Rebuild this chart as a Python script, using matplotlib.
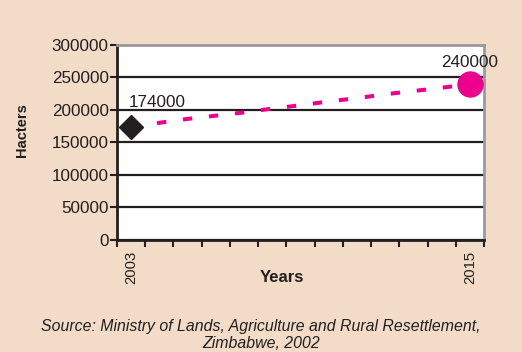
import matplotlib
matplotlib.use("Agg")
import matplotlib.pyplot as plt

# --- Data ---
years = list(range(2003, 2016))
hectares = [174000, 180000, 186000, 191000, 196000, 202000, 207000,
            213000, 218000, 224000, 229000, 234000, 240000]
start_label = "174000"
end_label = "240000"
shown_years = ["2003", "2015"]

BG = "#f2dcc8"
PINK = "#ec008c"
DARK = "#231f20"

plt.rcParams["font.family"] = ["Liberation Sans", "DejaVu Sans"]

fig = plt.figure(figsize=(5.22, 3.52), dpi=100, facecolor=BG)
ax = fig.add_axes([117 / 522, 1 - 239.5 / 352, 367 / 522, 194.5 / 352])
ax.set_facecolor("white")

x = list(range(len(years)))
ax.plot(x, hectares, color=PINK, lw=2.9, linestyle=(0, (2.3, 4.2)),
        solid_capstyle="butt", dash_capstyle="butt", zorder=3)
ax.plot(x[0], hectares[0], marker="D", ms=12.5, color=DARK, ls="none", zorder=4)
ax.plot(x[-1], hectares[-1], marker="o", ms=18, color=PINK, ls="none", zorder=4,
        clip_on=False)

# value labels above the end points
ax.text(x[0] - 0.1, 204000, start_label, fontsize=12.3, color=DARK,
        ha="left", va="baseline")
ax.text(x[-1], 266500, end_label, fontsize=12.3, color=DARK,
        ha="center", va="baseline", clip_on=False)

ax.set_xlim(-0.5, len(years) - 0.5)
ax.set_ylim(0, 300000)
ax.set_yticks(range(0, 300001, 50000))
ax.set_yticklabels([str(v) for v in range(0, 300001, 50000)], fontsize=12.3, color=DARK)
ax.set_xticks([i - 0.5 for i in range(len(years) + 1)])
ax.set_xticklabels([])
ax.set_xticks([0, len(years) - 1], minor=True)
ax.set_xticklabels(shown_years, minor=True, rotation=90, fontsize=10.7, color=DARK)
ax.tick_params(axis="x", which="minor", length=0, pad=8)
ax.tick_params(axis="both", which="major", direction="out", length=5, width=1.5,
               color=DARK, pad=1)

ax.grid(axis="y", color=DARK, lw=1.6, zorder=1)
ax.set_axisbelow(True)
for side in ["left", "bottom"]:
    ax.spines[side].set_color(DARK)
    ax.spines[side].set_linewidth(2)
for side in ["top", "right"]:
    ax.spines[side].set_color("#9a9a9a")
    ax.spines[side].set_linewidth(2)

fig.text(22 / 522, 1 - 130 / 352, "Hacters", rotation=90, fontsize=10.5,
         fontweight="bold", color=DARK, ha="center", va="center")
fig.text(282 / 522, 1 - 277 / 352, "Years", fontsize=12, fontweight="bold",
         color=DARK, ha="center", va="center")
fig.text(261 / 522, 1 - 335 / 352,
         "Source: Ministry of Lands, Agriculture and Rural Resettlement,\nZimbabwe, 2002",
         fontsize=11.4, style="italic", color=DARK, ha="center", va="center",
         linespacing=1.2)

fig.savefig("out.png", dpi=100, facecolor=BG)
